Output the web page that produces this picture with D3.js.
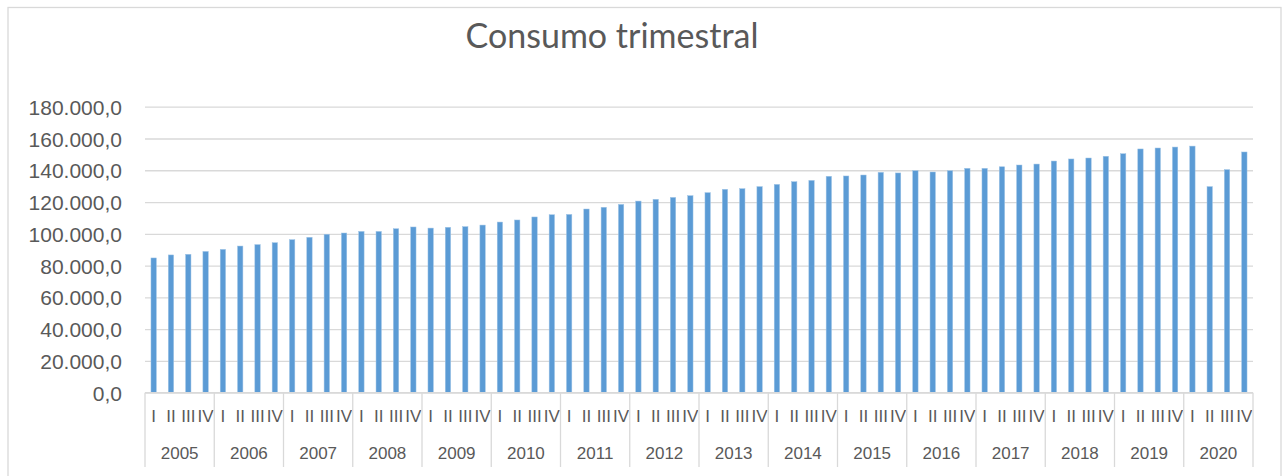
<!DOCTYPE html>
<html lang="es">
<head>
    <meta charset="utf-8">
    <title>Consumo trimestral</title>
    <script src="https://cdnjs.cloudflare.com/ajax/libs/d3/7.8.5/d3.min.js"></script>
    <style>
        body { margin: 0; background: #fff; }
        svg { display: block; font-family: Lato, "Liberation Sans", sans-serif; }
        .grid line { stroke: #d9d9d9; stroke-width: 1.3; }
        .grid text { fill: #595959; font-size: 21px; }
        .qaxis text { fill: #595959; font-size: 17px; }
        .yaxis text { fill: #595959; font-size: 17px; }
    </style>
</head>
<body>
<div id="chart"></div>
<script>
    // datos
    var years = ["2005","2006","2007","2008","2009","2010","2011","2012",
                 "2013","2014","2015","2016","2017","2018","2019","2020"];
    var quarters = ["I","II","III","IV"];
    var consumo = [
        84800, 86700, 87100, 88900,
        90200, 92300, 93200, 94400,
        96300, 97800, 99700, 100500,
        101500, 101500, 103200, 104300,
        103600, 104100, 104500, 105500,
        107400, 108700, 110600, 112000,
        112200, 115600, 116700, 118500,
        120600, 121700, 122900, 124000,
        125900, 128000, 128400, 129700,
        131100, 132800, 133600, 136200,
        136400, 137000, 138700, 138300,
        139700, 138900, 139700, 141200,
        141200, 142200, 143300, 143900,
        145800, 147100, 147700, 148800,
        150400, 153400, 154000, 154600,
        155200, 129700, 140400, 151500
    ];
    var yTicks = [0, 20000, 40000, 60000, 80000, 100000, 120000, 140000, 160000, 180000];

    var width = 1283, height = 476;
    var plotLeft = 145, plotRight = 1253, plotTop = 106.7, plotBottom = 392.7;

    var rows = [];
    years.forEach(function(y, i) {
        quarters.forEach(function(q, j) {
            rows.push({ key: y + "-" + q, year: y, q: q, value: consumo[i * 4 + j] });
        });
    });

    var es = d3.formatLocale({ decimal: ",", thousands: ".", grouping: [3], currency: ["", "€"] });
    var fmt = es.format(",.1f");

    var x = d3.scaleBand().domain(rows.map(d => d.key)).range([plotLeft, plotRight]).paddingInner(0.69).paddingOuter(0.345);
    var xYear = d3.scaleBand().domain(years).range([plotLeft, plotRight]);
    var y = d3.scaleLinear().domain([0, 180000]).range([plotBottom, plotTop]);

    var svg = d3.select("#chart").append("svg")
        .attr("width", width)
        .attr("height", height);

    svg.append("rect")
        .attr("x", 8).attr("y", 7.5)
        .attr("width", 1273).attr("height", 480)
        .attr("fill", "#fff")
        .attr("stroke", "#d9d9d9")
        .attr("stroke-width", 1.3);

    svg.append("text")
        .attr("x", 612)
        .attr("y", 48)
        .attr("text-anchor", "middle")
        .attr("fill", "#595959")
        .style("font-size", "34px")
        .text("Consumo trimestral");

    // rejilla + etiquetas del eje Y
    svg.append("g")
        .attr("class", "grid")
        .attr("transform", "translate(" + plotLeft + ",0)")
        .call(d3.axisLeft(y).tickValues(yTicks).tickFormat(fmt)
            .tickSize(-(plotRight - plotLeft)).tickPadding(23))
        .call(g => g.select(".domain").remove())
        .call(g => g.selectAll("text").attr("dy", "0.36em"));

    // barras
    svg.append("g")
        .selectAll("rect")
        .data(rows)
        .enter()
        .append("rect")
        .attr("x", d => x(d.key))
        .attr("width", x.bandwidth())
        .attr("y", d => y(d.value))
        .attr("height", d => y(0) - y(d.value))
        .attr("fill", "#5b9bd5")
        .attr("stroke", "#9dc3e6")
        .attr("stroke-width", 0.5);

    // eje de categorías: trimestres
    svg.append("g")
        .attr("class", "qaxis")
        .attr("transform", "translate(0," + plotBottom + ")")
        .call(d3.axisBottom(x).tickSize(0).tickPadding(17).tickFormat(k => k.split("-")[1]))
        .call(g => g.select(".domain").remove());

    // eje de categorías: años
    svg.append("g")
        .attr("class", "yaxis")
        .attr("transform", "translate(0," + plotBottom + ")")
        .call(d3.axisBottom(xYear).tickSize(0).tickPadding(54))
        .call(g => g.select(".domain").remove());

    var seps = years.map(d => xYear(d)).concat([plotRight]);
    svg.append("g")
        .selectAll("line")
        .data(seps)
        .enter()
        .append("line")
        .attr("x1", d => d).attr("x2", d => d)
        .attr("y1", plotBottom).attr("y2", 467)
        .attr("stroke", "#d9d9d9")
        .attr("stroke-width", 1.3);

    svg.append("line")
        .attr("x1", plotLeft).attr("x2", plotRight)
        .attr("y1", plotBottom).attr("y2", plotBottom)
        .attr("stroke", "#d9d9d9")
        .attr("stroke-width", 1.3);
</script>
</body>
</html>
